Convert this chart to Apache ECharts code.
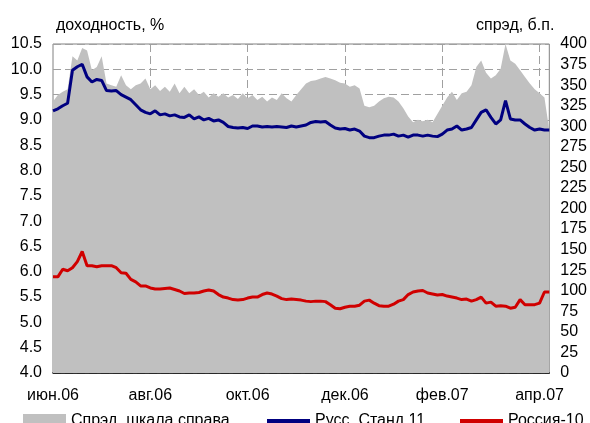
<!DOCTYPE html>
<html>
<head>
<meta charset="utf-8">
<script src="https://cdn.jsdelivr.net/npm/echarts@6/dist/echarts.min.js"></script>
<style>
  html, body { margin: 0; padding: 0; background: #fff; }
  #chart { width: 590px; height: 423px; }
</style>
</head>
<body>
<div id="chart"></div>
<script>
// Tick labels on the time axis (one every 20 observations, ~2 months)
const tickLabels = ['июн.06', 'авг.06', 'окт.06', 'дек.06', 'фев.07', 'апр.07'];
const tickEvery = 20;

// Spread, bp (right scale)
const spread = [
  330, 338, 342, 345, 385, 380, 395, 392, 368, 372,
  385, 352, 350, 348, 362, 350, 345, 350, 352, 358,
  345, 350, 343, 348, 342, 352, 340, 348, 340, 345,
  338, 342, 335, 340, 336, 340, 335, 338, 333, 340,
  334, 338, 332, 336, 330, 335, 332, 340, 334, 330,
  338, 345, 352, 355, 356, 358, 360, 358, 356, 353,
  352, 348, 350, 346, 325, 323, 325, 330, 334, 336,
  335, 330, 322, 312, 305, 308, 306, 308, 305, 315,
  325, 335, 342, 332, 340, 342, 350, 372, 380, 365,
  358, 362, 370, 400, 380, 376, 368, 360, 352, 345,
  340, 335, 295
];

// Russian Standard 11 yield, %
const russStand11 = [
  9.18, 9.22, 9.28, 9.33, 9.98, 10.05, 10.10, 9.85, 9.75, 9.80,
  9.78, 9.58, 9.57, 9.58, 9.50, 9.45, 9.40, 9.30, 9.20, 9.15,
  9.12, 9.18, 9.10, 9.12, 9.08, 9.10, 9.06, 9.05, 9.10, 9.02,
  9.06, 9.00, 9.03, 8.98, 9.00, 8.95, 8.87, 8.85, 8.84, 8.85,
  8.83, 8.88, 8.88, 8.86, 8.87, 8.86, 8.87, 8.86, 8.85, 8.88,
  8.86, 8.88, 8.90, 8.95, 8.97, 8.96, 8.97, 8.90, 8.84, 8.82,
  8.83, 8.80, 8.82, 8.78, 8.68, 8.65, 8.65, 8.68, 8.70, 8.70,
  8.72, 8.68, 8.70, 8.66, 8.70, 8.70, 8.68, 8.70, 8.68, 8.67,
  8.72, 8.80, 8.82, 8.88, 8.80, 8.82, 8.85, 9.00, 9.15, 9.20,
  9.05, 8.92, 9.00, 9.38, 9.02, 9.00, 9.00, 8.92, 8.85, 8.80,
  8.82, 8.80, 8.80
];

// Russia-10 yield, %
const russia10 = [
  5.90, 5.90, 6.05, 6.02, 6.08, 6.20, 6.40, 6.12, 6.12, 6.10,
  6.12, 6.12, 6.12, 6.08, 5.98, 5.97, 5.85, 5.80, 5.72, 5.72,
  5.68, 5.66, 5.66, 5.67, 5.68, 5.65, 5.62, 5.57, 5.58, 5.58,
  5.59, 5.62, 5.64, 5.62, 5.55, 5.50, 5.48, 5.45, 5.44, 5.45,
  5.48, 5.50, 5.50, 5.55, 5.58, 5.56, 5.52, 5.47, 5.45, 5.46,
  5.45, 5.44, 5.42, 5.41, 5.42, 5.42, 5.41, 5.35, 5.28, 5.27,
  5.30, 5.32, 5.32, 5.34, 5.42, 5.44, 5.38, 5.33, 5.32, 5.32,
  5.36, 5.42, 5.45, 5.55, 5.60, 5.62, 5.63, 5.58, 5.56, 5.54,
  5.55, 5.52, 5.50, 5.48, 5.45, 5.46, 5.42, 5.45, 5.50, 5.38,
  5.40, 5.32, 5.33, 5.32, 5.28, 5.30, 5.45, 5.35, 5.35, 5.35,
  5.38, 5.60, 5.60
];

const categories = spread.map((_, i) =>
  i % tickEvery === 0 ? (tickLabels[i / tickEvery] || '') : '');

const FONT = '"Liberation Sans", Arial, sans-serif';
const chart = echarts.init(document.getElementById('chart'), null, { renderer: 'canvas' });

const legendText = { fontFamily: FONT, fontSize: 16, color: '#000' };

chart.setOption({
  animation: false,
  backgroundColor: '#ffffff',
  textStyle: { fontFamily: FONT },
  title: [
    { text: 'доходность, %', left: 51, top: 13,
      textStyle: { fontFamily: FONT, fontSize: 16, fontWeight: 'normal', color: '#000' } },
    { text: 'спрэд, б.п.', left: 471, top: 13,
      textStyle: { fontFamily: FONT, fontSize: 16, fontWeight: 'normal', color: '#000' } }
  ],
  grid: {
    left: 53, right: 35, top: 44, bottom: 50,
    show: true, borderColor: '#808080', borderWidth: 1, backgroundColor: 'transparent'
  },
  legend: [
    { left: 23, top: 413, padding: 0, itemWidth: 43, itemHeight: 14, itemGap: 0,
      data: [{ name: 'Спрэд, шкала справа', icon: 'rect' }], textStyle: legendText },
    { left: 267, top: 413, padding: 0, itemWidth: 43, itemHeight: 4, itemGap: 0,
      data: [{ name: 'Русс. Станд 11', icon: 'rect' }], textStyle: legendText },
    { left: 460, top: 413, padding: 0, itemWidth: 43, itemHeight: 4, itemGap: 0,
      data: [{ name: 'Россия-10', icon: 'rect' }], textStyle: legendText }
  ],
  xAxis: {
    type: 'category',
    data: categories,
    boundaryGap: false,
    axisLine: { show: true, lineStyle: { color: '#000', width: 1.5 } },
    axisTick: { show: false },
    axisLabel: {
      interval: (i) => i % tickEvery === 0,
      margin: 15, fontFamily: FONT, fontSize: 16, color: '#000'
    },
    splitLine: {
      show: true,
      interval: (i) => i % tickEvery === 0 && i > 0,
      lineStyle: { color: '#a0a0a0', type: [8, 4], width: 1 }
    }
  },
  yAxis: [
    {
      type: 'value', min: 4, max: 10.5, interval: 0.5,
      axisLine: { show: false }, axisTick: { show: false },
      axisLabel: { margin: 11, fontFamily: FONT, fontSize: 16, color: '#000',
        formatter: (v) => v.toFixed(1) },
      splitLine: { show: true, lineStyle: { color: '#a0a0a0', type: [8, 4], width: 1 } }
    },
    {
      type: 'value', min: 0, max: 400, interval: 25,
      axisLine: { show: false }, axisTick: { show: false },
      axisLabel: { margin: 11, fontFamily: FONT, fontSize: 16, color: '#000' },
      splitLine: { show: false }
    }
  ],
  series: [
    {
      name: 'Спрэд, шкала справа', type: 'line', yAxisIndex: 1,
      data: spread, symbol: 'none', smooth: false,
      itemStyle: { color: '#c0c0c0' },
      lineStyle: { width: 0, color: '#c0c0c0' },
      areaStyle: { color: '#c0c0c0', opacity: 1 }
    },
    {
      name: 'Русс. Станд 11', type: 'line', yAxisIndex: 0,
      data: russStand11, symbol: 'none',
      itemStyle: { color: '#000080' },
      lineStyle: { width: 3, color: '#000080' }
    },
    {
      name: 'Россия-10', type: 'line', yAxisIndex: 0,
      data: russia10, symbol: 'none',
      itemStyle: { color: '#d00000' },
      lineStyle: { width: 3, color: '#d00000' }
    }
  ]
});
</script>
</body>
</html>
